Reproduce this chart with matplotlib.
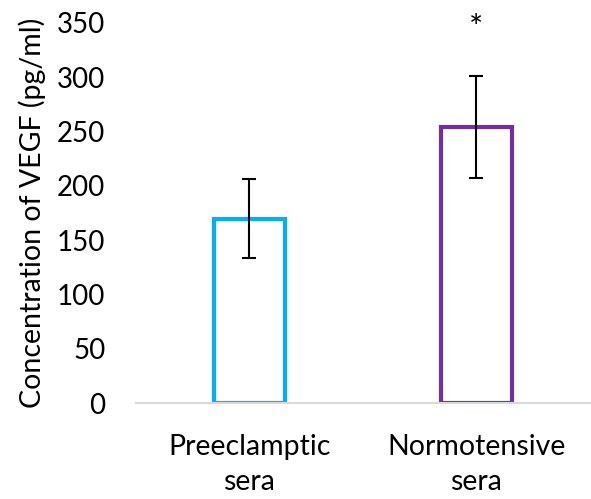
import matplotlib
matplotlib.use("Agg")
import matplotlib.pyplot as plt

categories = ["Preeclamptic\nsera", "Normotensive\nsera"]
values = [170, 254]
errors = [36, 47]
colors = ["#00B0F0", "#7030A0"]
yticks = [0, 50, 100, 150, 200, 250, 300, 350]
ylabel = "Concentration of VEGF (pg/ml)"
annotations = ["", "*"]

plt.rcParams['font.family'] = ['Lato', 'DejaVu Sans']

fig = plt.figure(figsize=(5.91, 4.99), dpi=100)
ax = fig.add_axes([0.230, 0.192, 0.768, 0.762])

x = list(range(len(categories)))
ax.bar(x, values, width=0.31, facecolor="none", edgecolor=colors, linewidth=3.0, zorder=2)
ax.errorbar(x, values, yerr=errors, fmt="none", ecolor="black", elinewidth=1.5,
            capsize=5, capthick=1.5, zorder=3)
for xi, v, e, a in zip(x, values, errors, annotations):
    if a:
        ax.text(xi, 344, a, ha="center", va="center", fontsize=24, color="black")

ax.set_xlim(-0.5, 1.5)
ax.set_ylim(0, 350)
ax.set_yticks(yticks)
ax.set_xticks(x)
ax.set_xticklabels(categories, fontsize=20.5, linespacing=1.45)
ax.tick_params(axis="y", labelsize=20, length=0, pad=22)
ax.tick_params(axis="x", length=0, pad=22)
for s in ["top", "right", "left"]:
    ax.spines[s].set_visible(False)
ax.spines["bottom"].set_color("#D9D9D9")
ax.spines["bottom"].set_linewidth(1.5)
ax.set_ylabel(ylabel, fontsize=20.5, labelpad=8)

fig.savefig("out.png", dpi=100)
